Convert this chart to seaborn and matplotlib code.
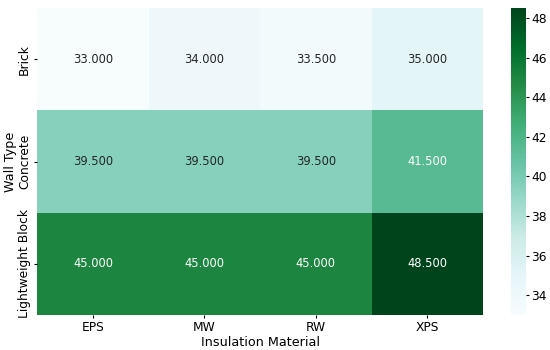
import pandas as pd
import matplotlib
matplotlib.use("Agg")
import matplotlib.pyplot as plt
import seaborn as sns

# Data
wall_types = ["Brick", "Concrete", "Lightweight Block"]
materials = ["EPS", "MW", "RW", "XPS"]
brick = [33.0, 34.0, 33.5, 35.0]
concrete = [39.5, 39.5, 39.5, 41.5]
lightweight = [45.0, 45.0, 45.0, 48.5]

df = pd.DataFrame([brick, concrete, lightweight], index=wall_types, columns=materials)
df.index.name = "Wall Type"
df.columns.name = "Insulation Material"

fig = plt.figure(figsize=(5.5, 3.5), dpi=100)
ax = fig.add_axes([0.068, 0.1, 0.81, 0.877])
cax = fig.add_axes([0.929, 0.1, 0.027, 0.877])

sns.heatmap(df, annot=True, fmt=".3f", cmap="BuGn", ax=ax, cbar_ax=cax,
            annot_kws={"size": 8.3})
ax.tick_params(labelsize=8.8, length=2.5, pad=2)
cax.tick_params(labelsize=8.8, length=2.5, pad=1.5)
ax.set_xlabel("Insulation Material", fontsize=9.2, labelpad=1)
ax.set_ylabel("Wall Type", fontsize=9.2, labelpad=1)
cax.set_yticks([34, 36, 38, 40, 42, 44, 46, 48])

fig.savefig("out.png", dpi=100)
